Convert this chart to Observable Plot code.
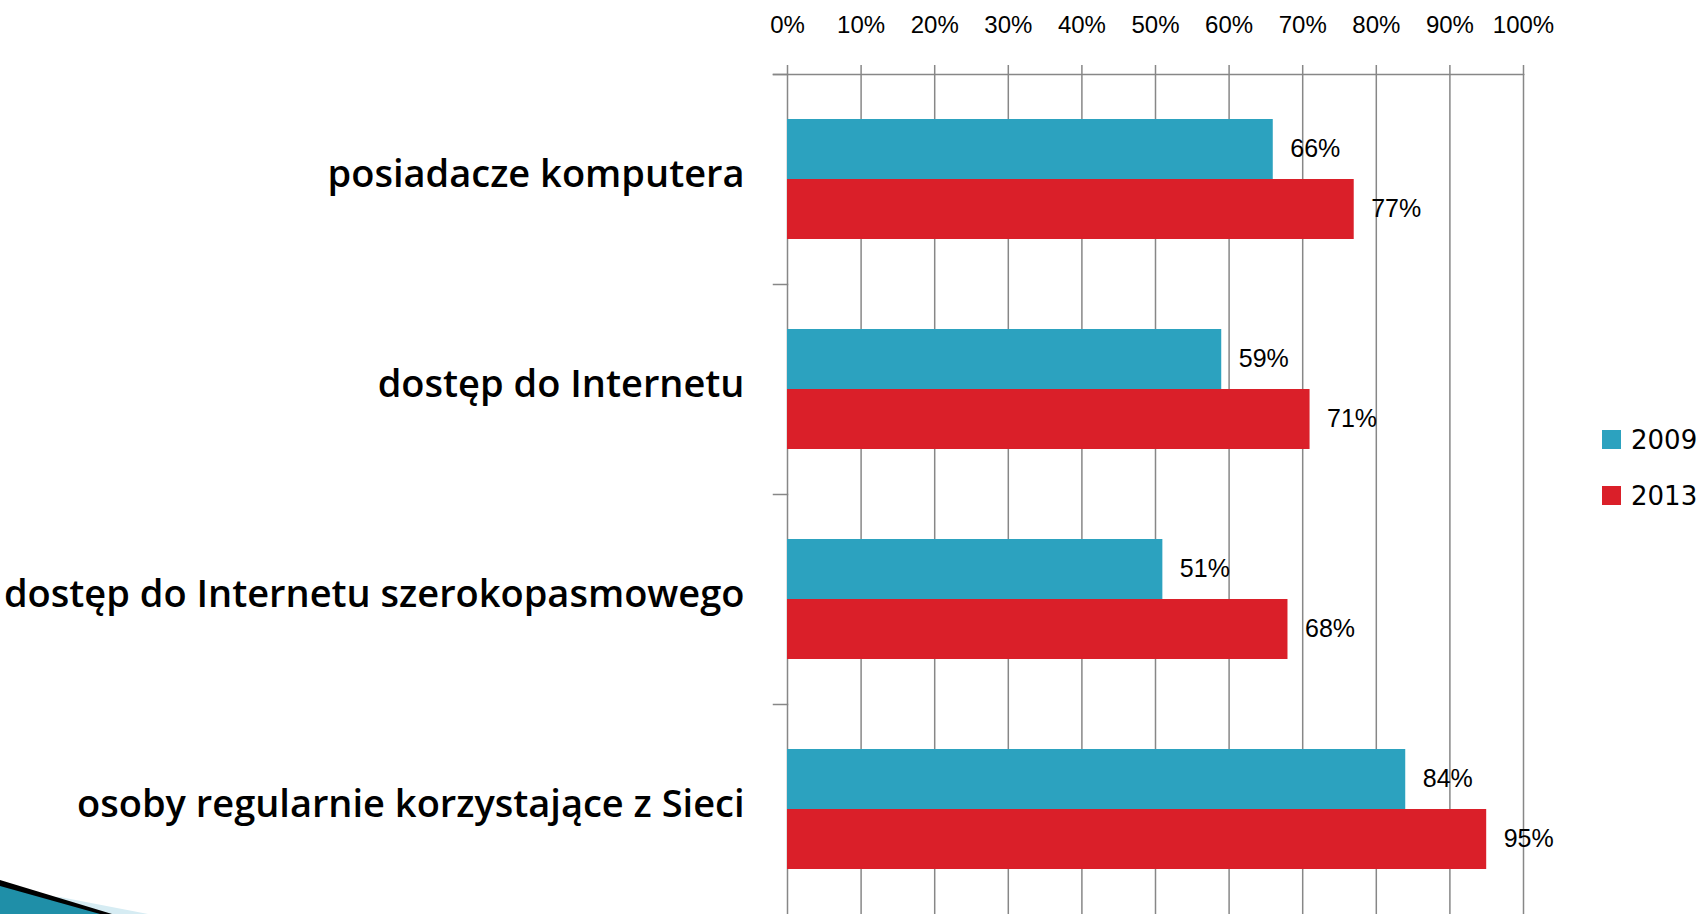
<!DOCTYPE html>
<html>
<head>
<meta charset="utf-8">
<script src="https://cdn.jsdelivr.net/npm/d3@7"></script>
<script src="https://cdn.jsdelivr.net/npm/@observablehq/plot@0.6"></script>
<style>
  html, body { margin: 0; padding: 0; background: #fff; }
  #wrap { position: relative; width: 1698px; height: 914px; overflow: hidden; }
  #chart svg { display: block; }
  #legend { position: absolute; left: 1602px; top: 426px; font-family: "DejaVu Sans", sans-serif; font-size: 26px; color: #000; }
  #legend .row { display: flex; align-items: center; height: 27px; margin-bottom: 29px; }
  #legend .sw { width: 19px; height: 19px; margin-right: 10px; }
  #deco { position: absolute; left: 0; top: 0; }
</style>
</head>
<body>
<div id="wrap">
  <div id="chart"></div>
  <div id="legend"></div>
  <svg id="deco" width="200" height="914" viewBox="0 0 200 914">
    <polygon points="0,895 60,897 148,914 0,914" fill="#d6ecf3"/>
    <polygon points="0,884 110,914 0,914" fill="#1f8fa8"/>
    <polygon points="0,880 112,914 100,914 0,886" fill="#000"/>
  </svg>
</div>
<script>
const categories = [
  "posiadacze komputera",
  "dostęp do Internetu",
  "dostęp do Internetu szerokopasmowego",
  "osoby regularnie korzystające z Sieci"
];
const years = ["2009", "2013"];
const values2009 = [66, 59, 51, 84];
const values2013 = [77, 71, 68, 95];
const colors = ["#2ca2bf", "#da1f29"];
const tickValues = [0, 10, 20, 30, 40, 50, 60, 70, 80, 90, 100];

const data = [];
categories.forEach((c, i) => {
  data.push({category: c, year: years[0], value: values2009[i]});
  data.push({category: c, year: years[1], value: values2013[i]});
});

const plot = Plot.plot({
  width: 1698,
  height: 914,
  marginTop: 74,
  marginBottom: 0,
  marginLeft: 787,
  marginRight: 175,
  style: {fontFamily: "Liberation Sans, Arial, sans-serif", color: "#000", background: "transparent"},
  x: {domain: [0, 100], label: null, axis: null},
  y: {domain: years, paddingInner: 0, paddingOuter: 0.75, axis: null, label: null},
  fy: {domain: categories, padding: 0, axis: null, label: null},
  color: {domain: years, range: colors},
  marks: [
    Plot.gridX(tickValues, {stroke: "#878787", strokeOpacity: 1, strokeWidth: 1.5}),
    Plot.frame({anchor: "top", facet: "super", insetLeft: -14, stroke: "#878787", strokeWidth: 1.5}),
    Plot.frame({anchor: "top", insetLeft: -14, insetRight: 736, stroke: "#878787", strokeWidth: 1.5}),
    Plot.barX(data, {x: "value", y: "year", fy: "category", fill: "year"}),
    Plot.text(data, {x: "value", y: "year", fy: "category", text: d => d.value + "%", textAnchor: "start", dx: 17, dy: -1, fontSize: 25, fill: "#000"}),
    Plot.axisX(tickValues, {anchor: "top", tickSize: 10, tickPadding: 32, tickFormat: d => d + "%", fontSize: 24, stroke: "#878787", strokeWidth: 1.5, fill: "#000", label: null}),
    Plot.axisFy({anchor: "left", tickSize: 0, tickPadding: 43, dy: -5, fontSize: 38, fontFamily: "Open Sans", fontWeight: 600, fill: "#000", label: null})
  ]
});
document.getElementById("chart").appendChild(plot);

const legend = document.getElementById("legend");
years.forEach((y, i) => {
  const row = document.createElement("div");
  row.className = "row";
  const sw = document.createElement("div");
  sw.className = "sw";
  sw.style.background = colors[i];
  const t = document.createElement("span");
  t.textContent = y;
  row.appendChild(sw);
  row.appendChild(t);
  legend.appendChild(row);
});
</script>
</body>
</html>
